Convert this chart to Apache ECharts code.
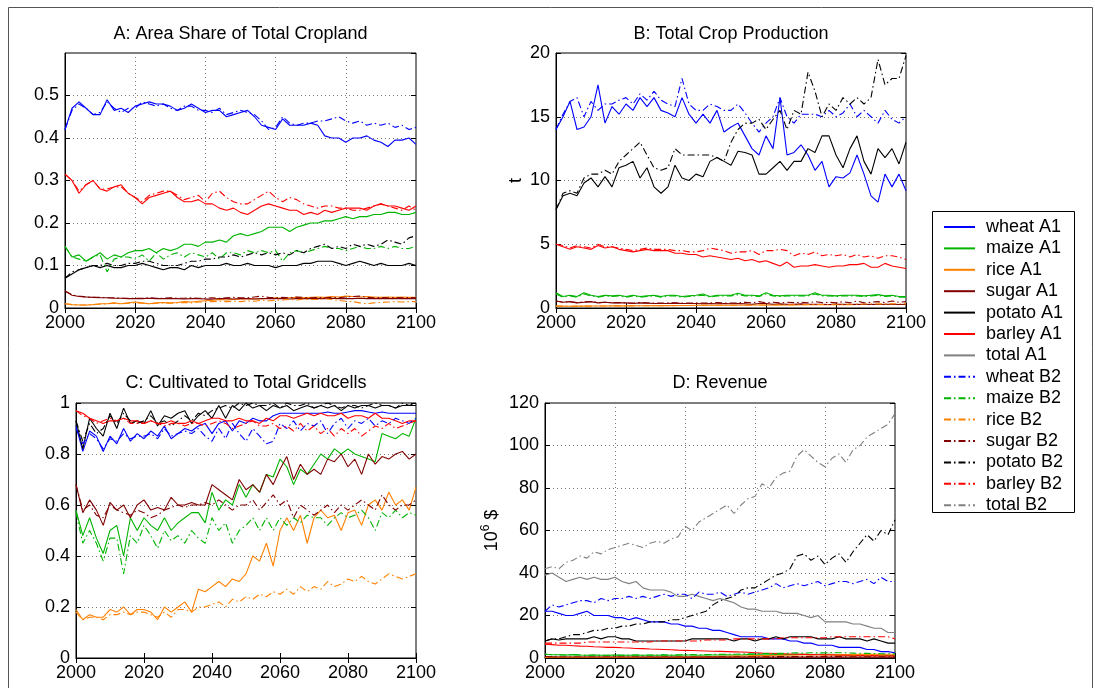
<!DOCTYPE html>
<html><head><meta charset="utf-8">
<script src="https://cdn.jsdelivr.net/npm/echarts@6/dist/echarts.min.js"></script>
<style>html,body{margin:0;padding:0;background:#fff}#c{width:1095px;height:688px}</style>
</head><body><div id="c"></div>
<script>
const years = [2000,2002,2004,2006,2008,2010,2012,2014,2016,2018,2020,2022,2024,2026,2028,2030,2032,2034,2036,2038,2040,2042,2044,2046,2048,2050,2052,2054,2056,2058,2060,2062,2064,2066,2068,2070,2072,2074,2076,2078,2080,2082,2084,2086,2088,2090,2092,2094,2096,2098,2100];
const xTicks = [2000,2020,2040,2060,2080,2100];
const legendNames = ['wheat A1','maize A1','rice A1','sugar A1','potato A1','barley A1','total A1','wheat B2','maize B2','rice B2','sugar B2','potato B2','barley B2','total B2'];
const panelTitles = ['A: Area Share of Total Cropland','B: Total Crop Production','C: Cultivated to Total Gridcells','D: Revenue'];

// Panel A: area share
const A_wheatA1 = [0.42, 0.47,0.485,0.47,0.455,0.455, 0.49,0.465,0.47,0.46,0.475, 0.48,0.485,0.48,0.48,0.475, 0.465,0.47,0.48,0.47,0.46, 0.465,0.465,0.45,0.455,0.46, 0.465,0.45,0.43,0.425,0.42, 0.445,0.43,0.43,0.43,0.435, 0.43,0.405,0.40,0.40,0.39, 0.40,0.40,0.405,0.395,0.39, 0.38,0.395,0.395,0.40,0.385];
const A_wheatB2 = [0.42, 0.465,0.48,0.47,0.455,0.46, 0.485,0.47,0.46,0.47,0.47, 0.485,0.48,0.475,0.48,0.47, 0.465,0.475,0.475,0.465,0.465, 0.46,0.47,0.455,0.46,0.465, 0.46,0.455,0.44,0.42,0.425, 0.45,0.435,0.43,0.435,0.435, 0.44,0.44,0.445,0.45,0.44, 0.435,0.44,0.43,0.435,0.43, 0.435,0.425,0.43,0.42,0.425];
const A_maizeA1 = [0.145, 0.12,0.125,0.11,0.12,0.13, 0.115,0.125,0.12,0.13,0.135, 0.135,0.14,0.13,0.14,0.135, 0.14,0.15,0.15,0.145,0.155, 0.155,0.16,0.155,0.17,0.175, 0.17,0.175,0.18,0.19,0.19, 0.19,0.18,0.19,0.195,0.20, 0.20,0.205,0.205,0.21,0.215, 0.21,0.215,0.215,0.22,0.22, 0.225,0.225,0.22,0.22,0.225];
const A_maizeB2 = [0.145, 0.12,0.115,0.11,0.12,0.125, 0.085,0.115,0.12,0.12,0.115, 0.125,0.11,0.13,0.115,0.125, 0.13,0.12,0.13,0.125,0.12, 0.13,0.115,0.13,0.13,0.125, 0.135,0.13,0.135,0.13,0.135, 0.11,0.13,0.135,0.13,0.135, 0.14,0.145,0.14,0.14,0.135, 0.14,0.145,0.14,0.14,0.145, 0.14,0.145,0.14,0.14,0.145];
const A_riceA1 = [0.01, 0.008,0.007,0.007,0.008,0.01, 0.01,0.012,0.01,0.012,0.014, 0.012,0.01,0.012,0.013,0.012, 0.013,0.015,0.014,0.016,0.017, 0.018,0.02,0.019,0.02,0.021, 0.022,0.021,0.022,0.023,0.024, 0.023,0.024,0.025,0.024,0.025, 0.026,0.025,0.027,0.026,0.028, 0.027,0.026,0.027,0.026,0.025, 0.026,0.025,0.026,0.025,0.025];
const A_riceB2 = [0.01, 0.008,0.007,0.007,0.008,0.009, 0.01,0.011,0.01,0.011,0.012, 0.011,0.01,0.011,0.012,0.011, 0.012,0.013,0.012,0.014,0.014, 0.015,0.016,0.015,0.016,0.015, 0.017,0.016,0.018,0.017,0.018, 0.019,0.02,0.019,0.021,0.02, 0.02,0.022,0.02,0.018,0.016, 0.015,0.012,0.01,0.012,0.013, 0.014,0.015,0.014,0.015,0.015];
const A_sugarA1 = [0.04, 0.03,0.027,0.026,0.025,0.024, 0.024,0.023,0.023,0.022,0.022, 0.022,0.023,0.022,0.022,0.022, 0.022,0.021,0.022,0.022,0.021, 0.021,0.022,0.022,0.021,0.022, 0.022,0.021,0.022,0.022,0.022, 0.022,0.021,0.022,0.022,0.022, 0.022,0.022,0.023,0.022,0.022, 0.022,0.023,0.022,0.022,0.022, 0.022,0.022,0.022,0.022,0.022];
const A_sugarB2 = [0.04, 0.031,0.028,0.026,0.025,0.025, 0.024,0.024,0.023,0.023,0.023, 0.023,0.024,0.023,0.023,0.024, 0.023,0.023,0.024,0.023,0.023, 0.024,0.023,0.024,0.025,0.024, 0.024,0.026,0.028,0.025,0.024, 0.025,0.024,0.026,0.025,0.024, 0.025,0.024,0.025,0.024,0.026, 0.027,0.028,0.025,0.024,0.025, 0.024,0.025,0.024,0.025,0.024];
const A_potatoA1 = [0.07, 0.08,0.09,0.095,0.10,0.095, 0.10,0.095,0.095,0.10,0.10, 0.105,0.10,0.095,0.09,0.095, 0.095,0.09,0.10,0.095,0.10, 0.10,0.10,0.105,0.10,0.10, 0.105,0.10,0.10,0.10,0.095, 0.10,0.10,0.10,0.105,0.105, 0.11,0.11,0.11,0.105,0.10, 0.105,0.11,0.105,0.10,0.105, 0.10,0.10,0.10,0.105,0.10];
const A_potatoB2 = [0.07, 0.085,0.09,0.095,0.10,0.10, 0.105,0.10,0.10,0.105,0.105, 0.11,0.11,0.105,0.10,0.10, 0.10,0.105,0.11,0.11,0.115, 0.115,0.12,0.12,0.125,0.12, 0.125,0.13,0.125,0.13,0.125, 0.13,0.125,0.135,0.13,0.14, 0.145,0.15,0.14,0.145,0.14, 0.15,0.145,0.15,0.145,0.15, 0.16,0.155,0.15,0.165,0.17];
const A_barleyA1 = [0.315, 0.30,0.27,0.29,0.30,0.28, 0.275,0.285,0.29,0.27,0.26, 0.245,0.26,0.265,0.27,0.275, 0.26,0.25,0.25,0.255,0.245, 0.245,0.235,0.23,0.235,0.225, 0.22,0.23,0.24,0.245,0.24, 0.235,0.23,0.23,0.22,0.225, 0.22,0.23,0.225,0.23,0.235, 0.235,0.235,0.23,0.24,0.245, 0.24,0.24,0.235,0.23,0.24];
const A_barleyB2 = [0.315, 0.30,0.275,0.29,0.30,0.28, 0.28,0.285,0.285,0.27,0.26, 0.25,0.265,0.27,0.275,0.275, 0.265,0.255,0.26,0.265,0.25, 0.27,0.275,0.26,0.25,0.245, 0.245,0.255,0.265,0.275,0.26, 0.25,0.26,0.255,0.245,0.24, 0.235,0.24,0.24,0.235,0.235, 0.23,0.23,0.235,0.24,0.245, 0.24,0.235,0.23,0.24,0.23];

// Panel B: production (t)
const B_wheatA1 = [14, 15,16.2,14,14.2,15, 17.5,14.5,15.8,15.2,16, 15.5,16.5,15.8,16.5,15.5, 15.3,15,16.5,15.2,14.5, 15.2,14.5,15.5,13.8,14.2, 14.5,13.5,12.5,12,13.5, 12.5,16.5,12,12.2,12.8, 12,10.8,11.5,9.5,10.3, 10.2,10.6,12,10.5,8.8, 8.3,10.5,9.5,10.5,9.2];
const B_wheatB2 = [14, 15.2,16.2,16.5,15,16.2, 15.5,16,16,16.3,16.5, 16,16.8,16.3,17,16.3, 16,15.8,18,16,15.5, 15.5,16,15.8,15.5,15.5, 16,15.3,14.5,13.8,14.5, 15,16.5,15,14.5,15.2, 15.2,15.2,15,15.5,15, 15.3,16,15,15.5,15, 14.5,15.5,14.8,14.5,15];
const B_maizeA1 = [1.2, 0.9,1.0,0.9,1.2,1.0, 0.9,1.0,0.95,1.0,0.9, 1.0,0.9,0.95,1.0,0.9, 1.0,1.0,0.9,0.95,1.0, 1.1,0.9,1.0,1.0,1.0, 1.15,1.0,1.0,0.95,1.2, 1.0,0.95,1.0,1.0,1.0, 1.0,1.2,1.0,1.0,0.95, 1.0,1.0,1.0,0.95,1.0, 1.05,0.95,1.0,0.9,0.9];
const B_maizeB2 = [1.1, 0.85,0.95,0.85,1.1,0.95, 0.85,0.95,0.9,0.95,0.85, 0.95,0.85,0.9,0.95,0.85, 0.95,0.95,0.85,0.9,0.95, 1.0,0.85,0.95,0.95,0.95, 1.05,0.95,0.95,0.9,1.1, 0.95,0.9,0.95,0.95,0.95, 0.95,1.1,0.95,0.95,0.9, 0.95,0.95,0.95,0.9,0.95, 1.0,0.9,0.95,0.85,0.85];
const B_riceA1 = [0.15, 0.15,0.14,0.15,0.15,0.16, 0.16,0.16,0.17,0.17,0.17, 0.18,0.18,0.18,0.19,0.19, 0.19,0.2,0.2,0.2,0.21, 0.21,0.21,0.22,0.22,0.22, 0.22,0.23,0.23,0.23,0.23, 0.24,0.24,0.24,0.24,0.25, 0.25,0.25,0.25,0.26,0.26, 0.26,0.26,0.27,0.27,0.27, 0.27,0.28,0.28,0.28,0.28];
const B_riceB2 = [0.15, 0.14,0.14,0.15,0.15,0.15, 0.16,0.16,0.16,0.17,0.17, 0.17,0.18,0.18,0.18,0.19, 0.19,0.19,0.2,0.2,0.2, 0.21,0.21,0.21,0.22,0.22, 0.22,0.22,0.23,0.23,0.24, 0.24,0.25,0.25,0.26,0.26, 0.27,0.27,0.28,0.28,0.29, 0.29,0.3,0.3,0.31,0.31, 0.32,0.32,0.33,0.33,0.34];
const B_sugarA1 = [0.55, 0.45,0.5,0.4,0.45,0.5, 0.4,0.45,0.4,0.4,0.4, 0.35,0.4,0.38,0.35,0.35, 0.35,0.38,0.35,0.35,0.35, 0.33,0.35,0.33,0.35,0.33, 0.35,0.33,0.3,0.35,0.35, 0.3,0.32,0.3,0.3,0.32, 0.3,0.3,0.3,0.28,0.3, 0.3,0.28,0.3,0.28,0.3, 0.28,0.3,0.3,0.28,0.3];
const B_sugarB2 = [0.55, 0.45,0.5,0.42,0.48,0.5, 0.42,0.45,0.42,0.42,0.4, 0.38,0.42,0.4,0.38,0.38, 0.4,0.4,0.38,0.38,0.4, 0.38,0.4,0.42,0.4,0.38, 0.4,0.45,0.4,0.5,0.4, 0.45,0.4,0.45,0.42,0.45, 0.4,0.5,0.42,0.45,0.4, 0.5,0.4,0.55,0.4,0.45, 0.5,0.42,0.55,0.45,0.5];
const B_potatoA1 = [7.7, 8.8,9,8.8,9.8,10.2, 9.5,10.3,9.5,11,11.2, 11.5,10.2,11,9.5,9, 9.5,11.2,10.2,10,10.5, 10.3,11.5,11.8,11.5,11.2, 12.3,12.2,12,10.5,10.5, 11,11.5,10.8,11.5,11.5, 12.5,12.2,13.5,13.5,12, 11,12.5,13.5,11.5,10.5, 12.5,11.8,12.5,11.3,13];
const B_potatoB2 = [7.7, 9,9.2,9,10.2,10.5, 10.5,10.8,10.5,11.5,12, 12.5,13,12,11,10.8, 11,12.5,12,12,12, 12,12,11.8,11.5,13, 14,14.5,14.5,14.8,14, 14.8,15.5,14,15.5,15.2, 18.5,17,15,16,15.5, 16.5,16,16.5,16,16.5, 19.5,17.5,18,18,19.8];
const B_barleyA1 = [5, 4.8,4.6,4.8,4.7,4.6, 4.9,4.7,4.8,4.6,4.5, 4.4,4.5,4.6,4.5,4.5, 4.5,4.3,4.3,4.2,4.2, 4.0,4.1,4.0,3.9,3.8, 3.9,3.7,3.8,3.6,3.7, 3.5,3.3,3.6,3.2,3.3, 3.3,3.4,3.3,3.2,3.3, 3.3,3.4,3.4,3.5,3.2, 3.2,3.5,3.3,3.2,3.1];
const B_barleyB2 = [5, 4.9,4.7,4.9,4.8,4.7, 5,4.8,4.8,4.7,4.6, 4.5,4.6,4.7,4.6,4.6, 4.6,4.5,4.5,4.4,4.4, 4.5,4.7,4.6,4.5,4.3, 4.4,4.4,4.5,4.2,4.5, 4.5,4.6,4.5,4.1,4.3, 4.2,4.4,4.1,4.2,4.1, 4.2,4.0,4.2,4.0,4.1, 3.9,4.1,4.1,4.0,3.8];

// Panel C: cultivated / total gridcells
const C_wheatA1 = [0.91, 0.81,0.89,0.87,0.81,0.87, 0.84,0.9,0.85,0.88,0.86, 0.89,0.87,0.91,0.86,0.88, 0.9,0.89,0.91,0.92,0.88, 0.92,0.93,0.89,0.93,0.92, 0.94,0.93,0.93,0.95,0.96, 0.96,0.96,0.96,0.96,0.96, 0.96,0.965,0.96,0.96,0.965, 0.97,0.97,0.965,0.96,0.965, 0.96,0.96,0.96,0.96,0.96];
const C_wheatB2 = [0.9, 0.84,0.88,0.86,0.82,0.86, 0.85,0.88,0.86,0.87,0.87, 0.88,0.86,0.9,0.87,0.88, 0.89,0.88,0.9,0.87,0.85, 0.9,0.86,0.92,0.88,0.85, 0.9,0.87,0.84,0.85,0.92, 0.9,0.93,0.89,0.92,0.91, 0.93,0.88,0.92,0.94,0.9, 0.93,0.92,0.94,0.91,0.93, 0.92,0.94,0.93,0.92,0.94];
const C_maizeA1 = [0.58, 0.48,0.55,0.47,0.41,0.5, 0.52,0.4,0.55,0.5,0.55, 0.52,0.5,0.55,0.5,0.53, 0.55,0.57,0.57,0.53,0.65, 0.58,0.62,0.6,0.68,0.63, 0.68,0.65,0.72,0.71,0.78, 0.75,0.68,0.74,0.72,0.76, 0.8,0.78,0.82,0.8,0.82, 0.8,0.79,0.78,0.77,0.88, 0.87,0.86,0.88,0.87,0.94];
const C_maizeB2 = [0.57, 0.45,0.5,0.45,0.38,0.47, 0.47,0.33,0.48,0.45,0.52, 0.48,0.43,0.5,0.46,0.48, 0.45,0.5,0.47,0.45,0.55, 0.5,0.53,0.45,0.5,0.52, 0.55,0.5,0.55,0.5,0.55, 0.52,0.55,0.53,0.56,0.55, 0.55,0.52,0.55,0.57,0.55, 0.56,0.58,0.55,0.5,0.57, 0.55,0.58,0.55,0.57,0.56];
const C_riceA1 = [0.19, 0.15,0.17,0.16,0.16,0.19, 0.18,0.2,0.17,0.19,0.19, 0.18,0.15,0.2,0.18,0.2, 0.22,0.18,0.27,0.26,0.28, 0.3,0.28,0.31,0.3,0.33, 0.4,0.38,0.45,0.36,0.5, 0.55,0.5,0.56,0.45,0.55, 0.58,0.55,0.56,0.5,0.57, 0.58,0.52,0.6,0.62,0.58, 0.65,0.6,0.62,0.58,0.67];
const C_riceB2 = [0.18, 0.15,0.16,0.16,0.15,0.17, 0.17,0.18,0.17,0.18,0.18, 0.17,0.16,0.18,0.16,0.19, 0.19,0.18,0.2,0.2,0.21, 0.22,0.2,0.23,0.22,0.24, 0.23,0.25,0.24,0.26,0.25, 0.27,0.25,0.28,0.26,0.28, 0.27,0.3,0.28,0.29,0.31, 0.3,0.32,0.3,0.29,0.31, 0.33,0.32,0.31,0.32,0.33];
const C_sugarA1 = [0.68, 0.57,0.62,0.58,0.52,0.61, 0.58,0.6,0.55,0.6,0.62, 0.58,0.59,0.58,0.63,0.6, 0.6,0.61,0.6,0.6,0.68, 0.66,0.64,0.62,0.7,0.66, 0.68,0.65,0.72,0.68,0.74, 0.79,0.7,0.76,0.72,0.74, 0.72,0.78,0.77,0.8,0.75, 0.78,0.72,0.8,0.76,0.79, 0.78,0.8,0.81,0.78,0.8];
const C_sugarB2 = [0.68, 0.58,0.6,0.56,0.55,0.6, 0.58,0.57,0.56,0.58,0.57, 0.55,0.56,0.58,0.59,0.6, 0.59,0.6,0.6,0.61,0.6, 0.62,0.6,0.58,0.6,0.6, 0.62,0.58,0.61,0.64,0.6, 0.62,0.55,0.6,0.58,0.56, 0.58,0.6,0.57,0.6,0.58, 0.6,0.62,0.6,0.58,0.64, 0.6,0.58,0.6,0.6,0.62];
const C_potatoA1 = [0.93, 0.82,0.94,0.9,0.87,0.96, 0.9,0.98,0.92,0.93,0.92, 0.97,0.91,0.95,0.94,0.96, 0.97,0.92,0.95,0.97,0.94, 0.99,0.94,0.99,0.97,1.0, 0.98,0.99,0.97,0.99,0.98, 0.99,0.97,0.98,0.99,0.98, 0.99,0.98,0.99,0.97,0.99, 0.98,0.99,0.99,0.98,0.99, 0.99,0.98,0.99,0.99,0.99];
const C_potatoB2 = [0.93, 0.85,0.92,0.88,0.9,0.95, 0.92,0.96,0.93,0.92,0.93, 0.95,0.92,0.93,0.91,0.93, 0.95,0.93,0.96,0.95,0.97, 0.98,0.99,0.98,1.0,0.99, 1.0,0.99,0.99,1.0,0.98, 1.0,0.99,0.99,1.0,0.98, 0.99,1.0,0.99,0.98,0.99, 0.99,0.98,0.99,1.0,0.99, 0.99,0.98,1.0,0.99,1.0];
const C_barleyA1 = [0.97, 0.96,0.94,0.93,0.92,0.93, 0.93,0.94,0.93,0.93,0.92, 0.93,0.92,0.92,0.93,0.92, 0.92,0.93,0.92,0.93,0.94, 0.94,0.93,0.93,0.94,0.93, 0.93,0.92,0.94,0.93,0.95, 0.95,0.94,0.95,0.96,0.95, 0.96,0.95,0.95,0.96,0.94, 0.95,0.95,0.94,0.96,0.94, 0.94,0.93,0.92,0.93,0.93];
const C_barleyB2 = [0.97, 0.95,0.94,0.92,0.93,0.94, 0.93,0.94,0.92,0.92,0.92, 0.93,0.92,0.91,0.92,0.92, 0.91,0.92,0.92,0.91,0.92, 0.93,0.92,0.9,0.91,0.92, 0.93,0.91,0.91,0.92,0.9, 0.91,0.89,0.92,0.89,0.91, 0.88,0.9,0.87,0.9,0.88, 0.9,0.87,0.89,0.91,0.9, 0.92,0.9,0.91,0.92,0.93];

// Panel D: revenue (10^6 $)
const D_wheatA1 = [22, 22,21,20,20,21, 22,20,20,20,19, 19,18,19,18,17, 17,17,16,16,15, 15,14,14,13,13, 12,11,10,10,10, 10,9,9,9,8, 8,7,7,6,6, 6,5,5,5,5, 4,4,3,3,2.5];
const D_wheatB2 = [22, 25,24,25,26,27, 27,26,28,27,28, 28,29,28,29,28, 29,30,29,30,30, 28,31,30,30,31, 29,30,31,30,31, 32,33,35,33,34, 35,34,35,36,34, 35,36,36,35,36, 37,35,38,36,36];
const D_maizeA1 = [1.8, 1.5,1.5,1.4,1.6,1.4, 1.3,1.4,1.3,1.3,1.4, 1.3,1.3,1.4,1.3,1.3, 1.3,1.4,1.3,1.3,1.4, 1.4,1.3,1.4,1.4,1.4, 1.5,1.4,1.4,1.6,1.5, 1.5,1.5,1.6,1.6,1.6, 1.7,1.7,1.6,1.7,1.7, 1.7,1.6,1.6,1.5,1.5, 1.5,1.4,1.4,1.3,1.3];
const D_maizeB2 = [1.8, 1.5,1.5,1.4,1.6,1.4, 1.3,1.4,1.3,1.3,1.4, 1.3,1.4,1.4,1.3,1.4, 1.4,1.5,1.4,1.5,1.5, 1.6,1.5,1.6,1.7,1.7, 1.8,1.8,1.9,2.0,2.0, 2.1,2.1,2.2,2.2,2.3, 2.4,2.3,2.5,2.4,2.5, 2.6,2.5,2.4,2.3,2.2, 2.2,2.1,2.0,2.0,1.9];
const D_riceA1 = [0.3, 0.3,0.3,0.3,0.3,0.3, 0.3,0.3,0.3,0.3,0.3, 0.3,0.3,0.35,0.35,0.35, 0.4,0.4,0.45,0.45,0.5, 0.55,0.6,0.65,0.7,0.75, 0.8,0.9,0.95,1.0,1.1, 1.2,1.2,1.3,1.3,1.4, 1.4,1.5,1.5,1.5,1.5, 1.6,1.6,1.6,1.6,1.7, 1.7,1.7,1.7,1.8,1.8];
const D_riceB2 = [0.3, 0.3,0.3,0.3,0.3,0.3, 0.3,0.3,0.3,0.3,0.3, 0.3,0.3,0.3,0.35,0.35, 0.35,0.35,0.4,0.4,0.4, 0.45,0.45,0.5,0.5,0.5, 0.55,0.55,0.6,0.6,0.65, 0.65,0.7,0.7,0.75,0.75, 0.8,0.8,0.85,0.85,0.9, 0.9,0.95,0.95,1.0,1.0, 1.0,1.05,1.05,1.1,1.1];
const D_sugarA1 = [0.6, 0.55,0.5,0.5,0.5,0.5, 0.5,0.5,0.45,0.45,0.45, 0.45,0.45,0.45,0.4,0.4, 0.4,0.4,0.4,0.4,0.4, 0.4,0.4,0.4,0.4,0.4, 0.4,0.4,0.4,0.4,0.4, 0.4,0.4,0.4,0.4,0.4, 0.4,0.4,0.4,0.4,0.4, 0.4,0.4,0.4,0.4,0.4, 0.4,0.4,0.4,0.4,0.4];
const D_sugarB2 = [0.6, 0.55,0.5,0.5,0.5,0.5, 0.5,0.5,0.5,0.5,0.5, 0.5,0.5,0.5,0.5,0.5, 0.5,0.5,0.5,0.5,0.5, 0.5,0.5,0.5,0.55,0.55, 0.55,0.55,0.6,0.6,0.6, 0.6,0.6,0.65,0.65,0.65, 0.7,0.7,0.7,0.7,0.75, 0.75,0.75,0.8,0.8,0.8, 0.8,0.85,0.85,0.85,0.9];
const D_potatoA1 = [8, 9,8.5,9,9,9, 9,10,9,10,10, 9,9,8,8,8, 8,8,8,8,8, 9,9,9,9,9, 9,8,9,9,8, 9,9,10,9,10, 10,10,10,9,9, 9,10,9,9,9, 8,9,8,7,7];
const D_potatoB2 = [8, 9,9,10,11,11, 12,13,13,14,14, 15,15,16,16,17, 17,17,18,18,19, 20,21,22,25,27, 28,29,32,33,33, 35,37,39,40,42, 48,49,46,48,44, 47,49,45,50,54, 58,55,60,58,65];
const D_barleyA1 = [6.5, 6.3,6,6,5.8,5.6, 5.5,5.3,5.2,5,5, 4.8,4.7,4.5,4.4,4.2, 4.1,4,3.9,3.7,3.6, 3.5,3.4,3.3,3.2,3.1, 3,2.9,2.8,2.7,2.5, 2.3,2.2,2.1,2,1.9, 1.8,1.7,1.6,1.5,1.5, 1.4,1.3,1.3,1.2,1.2, 1.1,1.1,1,1,1];
const D_barleyB2 = [7, 7,7,7,7,7, 7.5,7.5,7.5,7.5,7.5, 7.5,7.5,7.5,7.5,7.5, 8,8,8,8,8, 8,8,8.5,8.5,8.5, 8.5,9,9,9,9, 9,9,9,9.5,9.5, 9.5,9.5,9.5,9.5,9.5, 10,10,10,10,10, 10,10,10,10,9];
const D_totalA1 = [39, 40,38,36,37,38, 37,38,37,37,38, 36,35,36,33,32, 32,32,31,29,29, 30,29,28,27,28, 27,26,24,23,23, 22,22,22,21,21, 21,20,19,20,17, 17,17,17,16,16, 15,14,14,12,12];
const D_totalB2 = [42, 43,42,45,46,48, 47,50,49,51,52, 53,54,53,52,54, 55,54,56,57,62, 60,64,66,68,70, 72,68,72,75,76, 82,80,85,87,88, 95,98,95,92,90, 94,96,92,98,100, 104,106,108,110,115];

const colors = {wheat:'#0000ff', maize:'#00b400', rice:'#ff8000', sugar:'#800000', potato:'#000000', barley:'#ff0000', total:'#808080'};
const FONT = 'Liberation Sans, Arial, Helvetica, sans-serif';
const DASH = [7,3,1.5,3];

function mk(crop, scen, g, vals) {
  const c = colors[crop];
  return {
    name: crop + ' ' + scen, type: 'line', xAxisIndex: g, yAxisIndex: g,
    data: vals.map((v, i) => [years[i], v]),
    symbol: 'none', showSymbol: false, animation: false,
    lineStyle: {color: c, width: 1.1, type: scen === 'B2' ? DASH : 'solid'},
    itemStyle: {color: c}
  };
}

const series = [];
const panels = [
  {A1: {wheat:A_wheatA1, maize:A_maizeA1, rice:A_riceA1, sugar:A_sugarA1, potato:A_potatoA1, barley:A_barleyA1},
   B2: {wheat:A_wheatB2, maize:A_maizeB2, rice:A_riceB2, sugar:A_sugarB2, potato:A_potatoB2, barley:A_barleyB2}},
  {A1: {wheat:B_wheatA1, maize:B_maizeA1, rice:B_riceA1, sugar:B_sugarA1, potato:B_potatoA1, barley:B_barleyA1},
   B2: {wheat:B_wheatB2, maize:B_maizeB2, rice:B_riceB2, sugar:B_sugarB2, potato:B_potatoB2, barley:B_barleyB2}},
  {A1: {wheat:C_wheatA1, maize:C_maizeA1, rice:C_riceA1, sugar:C_sugarA1, potato:C_potatoA1, barley:C_barleyA1},
   B2: {wheat:C_wheatB2, maize:C_maizeB2, rice:C_riceB2, sugar:C_sugarB2, potato:C_potatoB2, barley:C_barleyB2}},
  {A1: {wheat:D_wheatA1, maize:D_maizeA1, rice:D_riceA1, sugar:D_sugarA1, potato:D_potatoA1, barley:D_barleyA1, total:D_totalA1},
   B2: {wheat:D_wheatB2, maize:D_maizeB2, rice:D_riceB2, sugar:D_sugarB2, potato:D_potatoB2, barley:D_barleyB2, total:D_totalB2}}
];
panels.forEach((p, g) => {
  ['A1','B2'].forEach(s => {
    Object.keys(p[s]).forEach(crop => series.push(mk(crop, s, g, p[s][crop])));
  });
});

const grids = [
  {left: 65, top: 53, width: 351, height: 255},
  {left: 556, top: 53, width: 350, height: 255},
  {left: 76, top: 403, width: 340, height: 255},
  {left: 545, top: 403, width: 350, height: 255}
];
const yCfg = [
  {min: 0, max: 0.6, interval: 0.1, vgrid: true, name: '', gap: 0},
  {min: 0, max: 20, interval: 5, vgrid: false, name: 't', gap: 31},
  {min: 0, max: 1, interval: 0.2, vgrid: false, name: '', gap: 0},
  {min: 0, max: 120, interval: 20, vgrid: true, name: '{b|10}{s|6}{b| $}', gap: 41}
];
const gridLine = {show: true, lineStyle: {color: '#777', type: [1, 3], width: 1}};
const tickStyle = {show: true, inside: true, length: 5, lineStyle: {color: '#000'}};

const xAxes = [], yAxes = [];
grids.forEach((g, i) => {
  xAxes.push({
    type: 'value', gridIndex: i, min: 2000, max: 2100, interval: 20,
    axisLine: {show: true, lineStyle: {color: '#000', width: 1}},
    axisTick: tickStyle,
    axisLabel: {color: '#000', fontSize: 18, fontFamily: FONT, margin: 6, formatter: v => String(v)},
    splitLine: yCfg[i].vgrid ? gridLine : {show: false}
  });
  yAxes.push({
    type: 'value', gridIndex: i, min: yCfg[i].min, max: yCfg[i].max, interval: yCfg[i].interval,
    name: yCfg[i].name, nameLocation: 'middle', nameGap: yCfg[i].gap,
    nameTextStyle: {fontSize: 18, color: '#000', fontFamily: FONT,
      rich: {b: {fontSize: 18, fontFamily: FONT, color: '#000', lineHeight: 24},
             s: {fontSize: 12, fontFamily: FONT, color: '#000', verticalAlign: 'top', lineHeight: 12}}},
    axisLine: {show: true, lineStyle: {color: '#000', width: 1}},
    axisTick: tickStyle,
    axisLabel: {color: '#000', fontSize: 18, fontFamily: FONT, margin: 6, showMaxLabel: i !== 0,
      formatter: v => String(Math.round(v * 10) / 10)},
    splitLine: gridLine
  });
});
// mirrored tick marks on top and right edges (box style)
grids.forEach((g, i) => {
  xAxes.push({type: 'value', gridIndex: i, position: 'top', min: 2000, max: 2100, interval: 20,
    axisLine: {show: false}, axisTick: tickStyle, axisLabel: {show: false}, splitLine: {show: false}});
  yAxes.push({type: 'value', gridIndex: i, position: 'right', min: yCfg[i].min, max: yCfg[i].max, interval: yCfg[i].interval,
    axisLine: {show: false}, axisTick: tickStyle, axisLabel: {show: false}, splitLine: {show: false}});
});

const option = {
  backgroundColor: '#fff',
  animation: false,
  textStyle: {fontFamily: FONT, color: '#000'},
  title: panelTitles.map((t, i) => ({
    text: t, left: grids[i].left + grids[i].width / 2, textAlign: 'center',
    top: i < 2 ? 25 : 374, padding: 0,
    textStyle: {fontSize: 18, fontWeight: 'normal', color: '#000', fontFamily: FONT}
  })),
  grid: grids.map(g => Object.assign({show: true, borderColor: '#000', borderWidth: 1, backgroundColor: 'transparent'}, g)),
  xAxis: xAxes,
  yAxis: yAxes,
  legend: {
    data: legendNames, orient: 'vertical', left: 943, top: 218, padding: 0,
    itemWidth: 31, itemHeight: 14, itemGap: 3.4,
    itemStyle: {opacity: 0},
    textStyle: {fontSize: 18, color: '#000', fontFamily: FONT, padding: [0, 0, 0, 6]},
    selectedMode: false
  },
  graphic: [
    {type: 'rect', z: -10, silent: true, shape: {x: 8.5, y: 7.5, width: 1084, height: 700},
     style: {fill: 'none', stroke: '#555', lineWidth: 1}},
    {type: 'rect', z: 0, silent: true, shape: {x: 932.5, y: 211.5, width: 142, height: 301},
     style: {fill: '#fff', stroke: '#000', lineWidth: 1}}
  ],
  series: series
};
const chart = echarts.init(document.getElementById('c'), null, {renderer: 'canvas'});
chart.setOption(option);
</script>
</body></html>
